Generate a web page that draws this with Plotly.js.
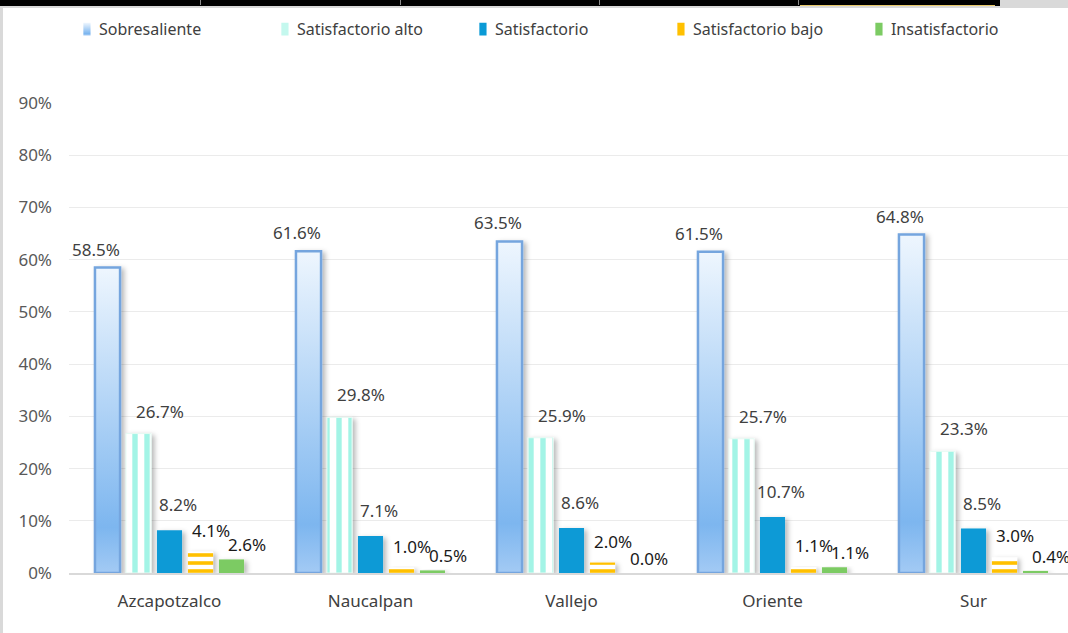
<!DOCTYPE html>
<html><head><meta charset="utf-8">
<script src="https://cdn.plot.ly/plotly-3.0.1.min.js"></script>
<style>
html,body{margin:0;padding:0;width:1068px;height:633px;overflow:hidden;background:#d9d9d9;position:relative}
#frame{position:absolute;left:3px;top:8px;width:1071px;height:625px;background:#fff;overflow:hidden}
#chart{position:absolute;left:0;top:0;width:1071px;height:625px}
#topbar{position:absolute;left:0;top:0;width:1000px;height:6px;background:#000}
.sep{position:absolute;top:0;width:1px;height:5px;background:#8a8a8a}
#ybar{position:absolute;left:800px;top:5px;width:195px;height:1px;background:#e8c96a}
</style></head>
<body>
<div id="topbar"><div class="sep" style="left:200px"></div><div class="sep" style="left:400px"></div><div class="sep" style="left:599px"></div><div class="sep" style="left:798px"></div><div id="ybar"></div></div>
<div id="frame"><div id="chart"></div></div>
<script>
var categories = ['Azcapotzalco', 'Naucalpan', 'Vallejo', 'Oriente', 'Sur'];
var seriesNames = ['Sobresaliente', 'Satisfactorio alto', 'Satisfactorio', 'Satisfactorio bajo', 'Insatisfactorio'];
var sobresaliente = [58.5, 61.6, 63.5, 61.5, 64.8];
var satisfactorioAlto = [26.7, 29.8, 25.9, 25.7, 23.3];
var satisfactorio = [8.2, 7.1, 8.6, 10.7, 8.5];
var satisfactorioBajo = [4.1, 1.0, 2.0, 1.1, 3.0];
var insatisfactorio = [2.6, 0.5, 0.0, 1.1, 0.4];
var allSeries = [sobresaliente, satisfactorioAlto, satisfactorio, satisfactorioBajo, insatisfactorio];

var markers = [
  {color: '#a6cbf3', line: {color: '#74a5de', width: 2.5}},
  {color: '#ffffff', line: {color: '#e6faf3', width: 1}, pattern: {shape: '|', fgcolor: '#a3f4e6', bgcolor: '#ffffff', size: 12, solidity: 0.45, fillmode: 'replace'}},
  {color: '#0a9ad6', line: {width: 0}},
  {color: '#ffc000', line: {width: 0}, pattern: {shape: '-', fgcolor: '#ffc000', bgcolor: '#ffffff', size: 8, solidity: 0.45, fillmode: 'replace'}},
  {color: '#7ccb63', line: {width: 0}}
];
var legendFill = ['url(#gSob)', '#c4f8ee', '#0a9ad6', '#ffc000', '#7ccb63'];

var data = allSeries.map(function (vals, i) {
  return {type: 'bar', name: seriesNames[i], x: categories, y: vals, marker: markers[i], hoverinfo: 'skip'};
});

var bargap = 0.229, bargroupgap = 0.19;
var plotW = 1071 - 66;
var slot = plotW / categories.length * (1 - bargap) / allSeries.length;
var labelDx = [-12, 21, 8, 11, 16];
var labelDy = [5, 9, 12, 8, 1];
var labelColor = ['#404040', '#404040', '#404040', '#1a1a1a', '#1a1a1a'];
var annotations = [];
allSeries.forEach(function (vals, i) {
  vals.forEach(function (v, j) {
    annotations.push({
      x: categories[j], y: v, xref: 'x', yref: 'y', text: v.toFixed(1) + '%', showarrow: false,
      xanchor: 'center', yanchor: 'bottom',
      xshift: (i - 2) * slot + labelDx[i], yshift: labelDy[i],
      font: {size: 17, color: labelColor[i], family: 'Noto Sans, sans-serif'}
    });
  });
});

var layout = {
  width: 1071, height: 625,
  margin: {l: 66, r: 0, t: 95, b: 60},
  paper_bgcolor: 'rgba(0,0,0,0)', plot_bgcolor: '#ffffff',
  barmode: 'group', bargap: bargap, bargroupgap: bargroupgap,
  font: {family: 'Noto Sans, sans-serif', color: '#595959'},
  xaxis: {type: 'category', showgrid: false, showline: true, linecolor: '#d9d9d9', linewidth: 1.5, ticks: '',
          tickfont: {size: 17, color: '#404040'}, ticklabelstandoff: 12, fixedrange: true},
  yaxis: {range: [0, 90], dtick: 10, ticksuffix: '%', showgrid: true, gridcolor: '#ebebeb', gridwidth: 1.2,
          zeroline: false, showline: false, tickfont: {size: 17, color: '#595959'}, ticklabelstandoff: 16, fixedrange: true},
  showlegend: true,
  legend: {orientation: 'h', x: -0.01, xanchor: 'left', y: 1.157, yanchor: 'middle', entrywidth: 153, entrywidthmode: 'pixels',
           font: {size: 16, color: '#404040'}, bgcolor: 'rgba(0,0,0,0)'},
  annotations: annotations
};

Plotly.newPlot('chart', data, layout, {staticPlot: true, displayModeBar: false}).then(function (gd) {
  var svg = gd.querySelector('.main-svg');
  var ns = 'http://www.w3.org/2000/svg';
  var defs = document.createElementNS(ns, 'defs');
  defs.innerHTML =
    '<linearGradient id="gSob" x1="0" y1="0" x2="0" y2="1">' +
    '<stop offset="0" stop-color="#eef6fe"/><stop offset="0.85" stop-color="#7db6ef"/><stop offset="1" stop-color="#a3caf4"/></linearGradient>' +
    '<filter id="sh" x="-50%" y="-20%" width="200%" height="140%">' +
    '<feDropShadow dx="3" dy="2" stdDeviation="2.5" flood-color="#000" flood-opacity="0.28"/></filter>';
  svg.insertBefore(defs, svg.firstChild);
  var traces = gd.querySelectorAll('.barlayer .trace');
  traces.forEach(function (t, i) {
    t.querySelectorAll('.point path').forEach(function (p) {
      if (i === 0) p.style.fill = 'url(#gSob)';
      p.setAttribute('filter', 'url(#sh)');
    });
  });
  var leg = gd.querySelectorAll('.legend .traces');
  leg.forEach(function (t, i) {
    t.querySelectorAll('.legendpoints path').forEach(function (p) {
      p.style.fill = legendFill[i];
      p.style.strokeWidth = '0';
      p.setAttribute('transform', 'translate(28,0) scale(0.6,1.05)');
    });
  });
});
</script>
</body></html>
